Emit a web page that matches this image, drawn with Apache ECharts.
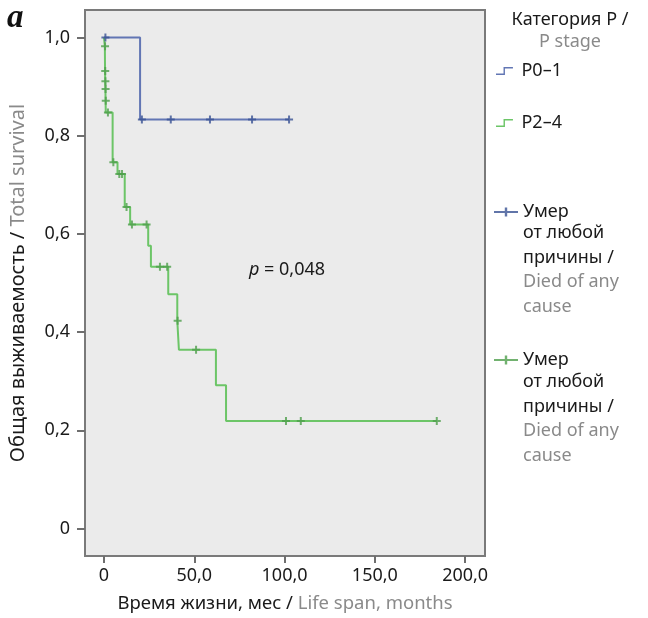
<!DOCTYPE html>
<html>
<head>
<meta charset="utf-8">
<script src="https://cdn.jsdelivr.net/npm/echarts@6/dist/echarts.min.js"></script>
<style>
html, body { margin: 0; padding: 0; background: #fff; }
#chart { width: 648px; height: 618px; }
</style>
</head>
<body>
<div id="chart"></div>
<script>
// axis ticks
const xTicks = [0, 50, 100, 150, 200];
const yTicks = [0, 0.2, 0.4, 0.6, 0.8, 1.0];

// P0-1: step points (time, survival) and censored marks
const p01Times = [0, 20, 102.5];
const p01Surv = [1, 0.833, 0.833];
const p01CensTimes = [0.8, 21, 37, 58.7, 82, 102.5];
const p01CensSurv = [1, 0.833, 0.833, 0.833, 0.833, 0.833];

// P2-4
const p24Times = [0, 0.5, 0.6, 0.7, 0.8, 0.9, 1.0, 4.8, 7.5, 11.5, 14.5, 24.5, 26, 35.6, 40.6, 41.5, 62, 67.6, 184.3];
const p24Surv = [1, 0.982, 0.932, 0.911, 0.895, 0.871, 0.847, 0.746, 0.722, 0.655, 0.619, 0.576, 0.533, 0.477, 0.423, 0.364, 0.292, 0.219, 0.219];
const p24CensTimes = [0.6, 0.7, 0.8, 0.9, 1.0, 2.2, 5.2, 8.5, 10, 12.5, 15.5, 23.6, 31, 35, 40.8, 51, 100.8, 109, 184.3];
const p24CensSurv = [0.982, 0.932, 0.911, 0.895, 0.871, 0.847, 0.746, 0.722, 0.722, 0.655, 0.619, 0.619, 0.533, 0.533, 0.423, 0.364, 0.219, 0.219, 0.219];

const FONT = 'Noto Sans';
const BLACK = '#1a1a1a';
const GREY = '#8a8a8a';
const BLUE = '#6276b4';
const BLUE_MARK = '#3a5293';
const GREEN = '#6cc567';
const GREEN_MARK = '#4f9f4c';

const plusSymbol = 'path://M3,0H5V3H8V5H5V8H3V5H0V3H3Z';
const stepIcon = 'path://M0,7H8V0H18V1.5H9.5V8.5H0Z';
const censIcon = 'path://M0,3.5H9V0.5H11V3.5H20V5H11V8H9V5H0Z';

function zip(a, b) {
    return a.map(function (v, i) { return [v, b[i]]; });
}

function fmt(v) {
    return v === 0 ? '0' : v.toFixed(1).replace('.', ',');
}

const chart = echarts.init(document.getElementById('chart'));

function legendBlock(name, top, icon, left, formatter) {
    return {
        data: [name],
        orient: 'vertical',
        left: left,
        top: top,
        padding: 0,
        itemWidth: 24,
        itemHeight: icon === stepIcon ? 8 : 9,
        icon: icon,
        selectedMode: false,
        itemStyle: { borderWidth: 0 },
        formatter: formatter,
        textStyle: { fontFamily: FONT, fontSize: 18, color: BLACK, lineHeight: 20 }
    };
}

function richName(size) {
    return {
        k: { fontFamily: FONT, fontSize: size, color: BLACK },
        g: { fontFamily: FONT, fontSize: size, color: GREY }
    };
}

const option = {
    animation: false,
    backgroundColor: '#fff',
    textStyle: { fontFamily: FONT },
    title: {
        text: 'Категория P /',
        subtext: 'P stage',
        left: 570,
        top: 9,
        textAlign: 'center',
        padding: 0,
        itemGap: 0,
        textStyle: { fontFamily: FONT, fontSize: 18, fontWeight: 'normal', color: BLACK, lineHeight: 22 },
        subtextStyle: { fontFamily: FONT, fontSize: 18, color: GREY, lineHeight: 22 }
    },
    legend: [
        legendBlock('P0–1', 61, stepIcon, 496),
        legendBlock('P2–4', 113, stepIcon, 496),
        legendBlock('cens1', 202, censIcon, 494, function () { return 'Умер'; }),
        legendBlock('cens2', 350, censIcon, 494, function () { return 'Умер'; })
    ],
    grid: {
        left: 85,
        right: 163,
        top: 10,
        bottom: 59,
        show: true,
        backgroundColor: '#ebebeb',
        borderColor: '#7a7a7a',
        borderWidth: 2
    },
    xAxis: {
        type: 'value',
        min: -10.5,
        max: 211,
        name: '{k|Время жизни, мес / }{g|Life span, months}',
        nameLocation: 'middle',
        nameGap: 38,
        nameTextStyle: { rich: richName(18.5) },
        axisLine: { show: false, onZero: false },
        splitLine: { show: false },
        axisTick: {
            show: true,
            length: 7,
            customValues: xTicks,
            lineStyle: { color: '#6e6e6e', width: 2 }
        },
        axisLabel: {
            customValues: xTicks,
            margin: 11,
            fontSize: 18,
            color: BLACK,
            formatter: fmt
        }
    },
    yAxis: {
        type: 'value',
        min: -0.056,
        max: 1.056,
        name: '{k|Общая выживаемость / }{g|Total survival}',
        nameLocation: 'middle',
        nameGap: 57,
        nameTextStyle: { rich: richName(20) },
        axisLine: { show: false, onZero: false },
        splitLine: { show: false },
        axisTick: {
            show: true,
            length: 8,
            customValues: yTicks,
            lineStyle: { color: '#6e6e6e', width: 2 }
        },
        axisLabel: {
            customValues: yTicks,
            margin: 15,
            fontSize: 18,
            color: BLACK,
            formatter: fmt
        }
    },
    series: [
        {
            name: 'P0–1',
            type: 'line',
            step: 'end',
            showSymbol: false,
            color: BLUE,
            lineStyle: { color: BLUE, width: 2 },
            data: zip(p01Times, p01Surv)
        },
        {
            name: 'P2–4',
            type: 'line',
            step: 'end',
            showSymbol: false,
            color: GREEN,
            lineStyle: { color: GREEN, width: 2 },
            data: zip(p24Times, p24Surv)
        },
        {
            name: 'cens1',
            type: 'scatter',
            symbol: plusSymbol,
            symbolSize: 8,
            color: BLUE_MARK,
            z: 3,
            data: zip(p01CensTimes, p01CensSurv)
        },
        {
            name: 'cens2',
            type: 'scatter',
            symbol: plusSymbol,
            symbolSize: 8,
            color: GREEN_MARK,
            z: 3,
            data: zip(p24CensTimes, p24CensSurv)
        }
    ],
    graphic: [
        {
            type: 'text',
            left: 7,
            top: 2,
            style: { text: 'a', font: 'italic bold 33px "Liberation Serif"', fill: '#111' }
        },
        {
            type: 'text',
            left: 249,
            top: 261,
            style: {
                text: '{i|p} = 0,048',
                fontFamily: FONT,
                fontSize: 18,
                fill: BLACK,
                rich: { i: { fontFamily: FONT, fontSize: 18, fontStyle: 'italic', fill: BLACK } }
            }
        },
        {
            type: 'text',
            left: 523,
            top: 224,
            style: {
                text: '{k|от любой}\n{k|причины /}\n{g|Died of any}\n{g|cause}',
                rich: {
                    k: { fontFamily: FONT, fontSize: 18, fill: BLACK, lineHeight: 24.5 },
                    g: { fontFamily: FONT, fontSize: 18, fill: GREY, lineHeight: 24.5 }
                }
            }
        },
        {
            type: 'text',
            left: 523,
            top: 373,
            style: {
                text: '{k|от любой}\n{k|причины /}\n{g|Died of any}\n{g|cause}',
                rich: {
                    k: { fontFamily: FONT, fontSize: 18, fill: BLACK, lineHeight: 24.5 },
                    g: { fontFamily: FONT, fontSize: 18, fill: GREY, lineHeight: 24.5 }
                }
            }
        }
    ]
};

chart.setOption(option);

window.addEventListener('resize', function () {
    chart.resize();
});
</script>
</body>
</html>
